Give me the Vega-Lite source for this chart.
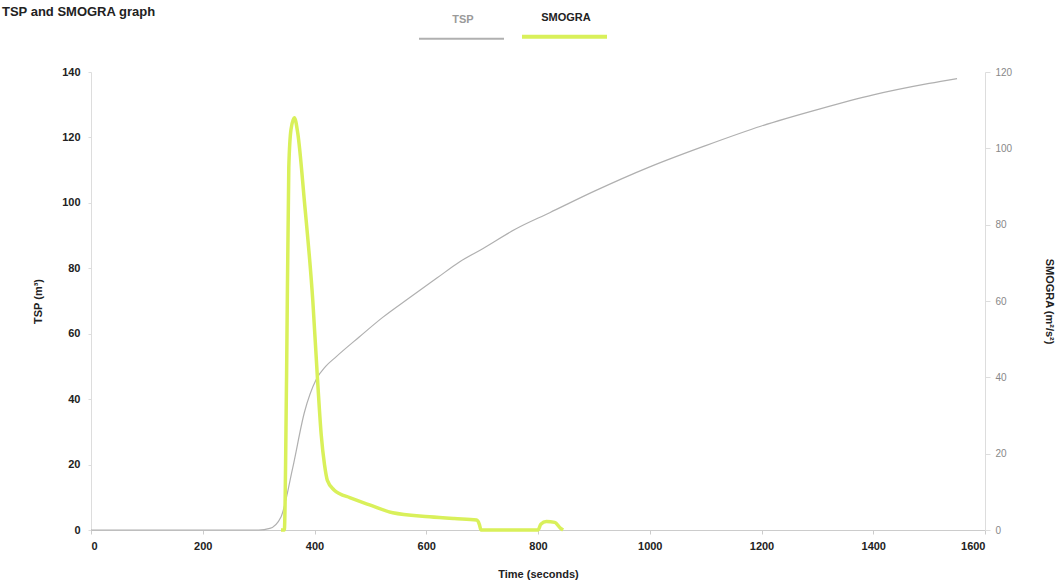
{
  "$schema": "https://vega.github.io/schema/vega-lite/v6.json",
  "autosize": "none",
  "width": 894,
  "height": 458,
  "padding": {"left": 91, "top": 72, "right": 79, "bottom": 56},
  "background": "white",
  "title": {
    "text": "TSP and SMOGRA graph",
    "anchor": "start",
    "frame": "group",
    "orient": "top",
    "font": "Liberation Sans",
    "fontSize": 13,
    "fontWeight": "bold",
    "color": "#222",
    "dx": -89,
    "dy": -10,
    "offset": 2
  },
  "config": {
    "view": {"stroke": null},
    "font": "Liberation Sans"
  },
  "datasets": {
    "tsp": [
      {"series": "TSP", "t": 0, "v": 0},
      {"series": "TSP", "t": 300, "v": 0},
      {"series": "TSP", "t": 320, "v": 0.5},
      {"series": "TSP", "t": 340, "v": 4},
      {"series": "TSP", "t": 361, "v": 19},
      {"series": "TSP", "t": 382, "v": 36},
      {"series": "TSP", "t": 403, "v": 46},
      {"series": "TSP", "t": 420, "v": 50},
      {"series": "TSP", "t": 439, "v": 53},
      {"series": "TSP", "t": 480, "v": 59},
      {"series": "TSP", "t": 522, "v": 65},
      {"series": "TSP", "t": 570, "v": 71},
      {"series": "TSP", "t": 619, "v": 77},
      {"series": "TSP", "t": 660, "v": 82},
      {"series": "TSP", "t": 701, "v": 86},
      {"series": "TSP", "t": 760, "v": 92},
      {"series": "TSP", "t": 821, "v": 97},
      {"series": "TSP", "t": 900, "v": 103.5},
      {"series": "TSP", "t": 1000, "v": 111},
      {"series": "TSP", "t": 1100, "v": 117.5},
      {"series": "TSP", "t": 1200, "v": 123.5},
      {"series": "TSP", "t": 1300, "v": 128.5},
      {"series": "TSP", "t": 1400, "v": 133},
      {"series": "TSP", "t": 1500, "v": 136.5},
      {"series": "TSP", "t": 1550, "v": 138}
    ],
    "smogra": [
      {"series": "SMOGRA", "t": 340, "v": 0},
      {"series": "SMOGRA", "t": 346, "v": 0},
      {"series": "SMOGRA", "t": 350, "v": 40},
      {"series": "SMOGRA", "t": 354, "v": 95},
      {"series": "SMOGRA", "t": 358, "v": 105},
      {"series": "SMOGRA", "t": 364, "v": 108},
      {"series": "SMOGRA", "t": 370, "v": 104},
      {"series": "SMOGRA", "t": 382, "v": 86},
      {"series": "SMOGRA", "t": 397, "v": 60},
      {"series": "SMOGRA", "t": 406, "v": 38},
      {"series": "SMOGRA", "t": 412, "v": 25},
      {"series": "SMOGRA", "t": 418, "v": 17},
      {"series": "SMOGRA", "t": 423, "v": 13},
      {"series": "SMOGRA", "t": 435, "v": 10.5},
      {"series": "SMOGRA", "t": 445, "v": 9.5},
      {"series": "SMOGRA", "t": 463, "v": 8.5},
      {"series": "SMOGRA", "t": 500, "v": 6.5},
      {"series": "SMOGRA", "t": 540, "v": 4.5},
      {"series": "SMOGRA", "t": 606, "v": 3.5},
      {"series": "SMOGRA", "t": 650, "v": 3},
      {"series": "SMOGRA", "t": 690, "v": 2.6},
      {"series": "SMOGRA", "t": 695, "v": 1.5},
      {"series": "SMOGRA", "t": 698, "v": 0},
      {"series": "SMOGRA", "t": 800, "v": 0},
      {"series": "SMOGRA", "t": 805, "v": 1.5},
      {"series": "SMOGRA", "t": 815, "v": 2.2},
      {"series": "SMOGRA", "t": 830, "v": 2},
      {"series": "SMOGRA", "t": 840, "v": 0.5},
      {"series": "SMOGRA", "t": 845, "v": 0}
    ]
  },
  "encoding": {
    "x": {
      "field": "t",
      "type": "quantitative",
      "scale": {"domain": [0, 1600], "nice": false, "zero": true},
      "axis": {
        "title": "Time (seconds)",
        "format": "d",
        "values": [0, 200, 400, 600, 800, 1000, 1200, 1400, 1600],
        "grid": false,
        "domainColor": "#cccccc",
        "tickColor": "#cccccc",
        "tickSize": 4,
        "labelFont": "Liberation Sans",
        "labelFontSize": 11,
        "labelFontWeight": "bold",
        "labelColor": "#222222",
        "labelPadding": 6,
        "titleFont": "Liberation Sans",
        "titleFontSize": 11,
        "titleFontWeight": "bold",
        "titleColor": "#222222",
        "titlePadding": 17
      }
    },
    "color": {
      "field": "series",
      "type": "nominal",
      "scale": {"domain": ["TSP", "SMOGRA"], "range": ["#b0b0b0", "#d9f05a"]},
      "legend": {
        "orient": "none",
        "legendX": 365,
        "legendY": -41,
        "direction": "horizontal",
        "title": null,
        "symbolType": "stroke",
        "symbolSize": 7225,
        "symbolStrokeWidth": 2,
        "labelAlign": "center",
        "labelOffset": -4,
        "labelFont": "Liberation Sans",
        "labelFontSize": 11,
        "labelFontWeight": "bold",
        "columnPadding": 6,
        "encode": {
          "labels": {
            "update": {
              "dy": {"value": -19},
              "fill": {"signal": "datum.label === 'TSP' ? '#9a9a9a' : '#222222'"}
            }
          },
          "symbols": {
            "update": {
              "strokeWidth": {"signal": "datum.label === 'TSP' ? 2 : 4"}
            }
          }
        }
      }
    }
  },
  "layer": [
    {
      "data": {"name": "tsp"},
      "mark": {"type": "line", "strokeWidth": 1.2, "interpolate": "monotone"},
      "encoding": {
        "y": {
          "field": "v",
          "type": "quantitative",
          "scale": {"domain": [0, 140], "nice": false},
          "axis": {
            "title": "TSP (m³)",
            "orient": "left",
            "values": [0, 20, 40, 60, 80, 100, 120, 140],
            "grid": false,
            "domainColor": "#dddddd",
            "tickColor": "#dddddd",
            "tickSize": 3,
            "labelFont": "Liberation Sans",
            "labelFontSize": 11,
            "labelFontWeight": "bold",
            "labelColor": "#222222",
            "labelPadding": 8,
            "titleFont": "Liberation Sans",
            "titleFontSize": 11,
            "titleFontWeight": "bold",
            "titleColor": "#222222",
            "titlePadding": 18
          }
        }
      }
    },
    {
      "data": {"name": "smogra"},
      "mark": {"type": "line", "strokeWidth": 3.5, "interpolate": "monotone"},
      "encoding": {
        "y": {
          "field": "v",
          "type": "quantitative",
          "scale": {"domain": [0, 120], "nice": false},
          "axis": {
            "title": "SMOGRA (m²/s²)",
            "orient": "right",
            "values": [0, 20, 40, 60, 80, 100, 120],
            "grid": false,
            "domainColor": "#dddddd",
            "tickColor": "#dddddd",
            "tickSize": 5,
            "labelFont": "Liberation Sans",
            "labelFontSize": 10,
            "labelColor": "#888888",
            "labelPadding": 5,
            "titleFont": "Liberation Sans",
            "titleFontSize": 11,
            "titleFontWeight": "bold",
            "titleColor": "#222222",
            "titlePadding": 32
          }
        }
      }
    }
  ],
  "resolve": {"scale": {"y": "independent"}}
}
